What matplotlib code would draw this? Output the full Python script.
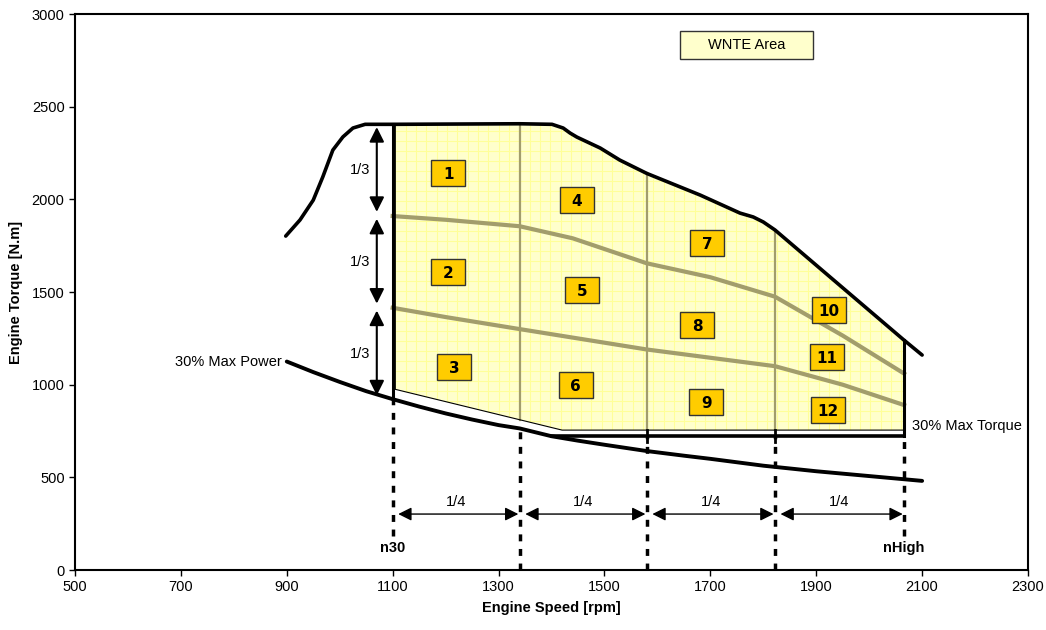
import numpy as np
import matplotlib.pyplot as plt
from matplotlib.patches import Polygon, Rectangle

plt.rcParams['font.family'] = ['Liberation Sans', 'DejaVu Sans']

# Кривая максимального момента
max_torque_x = [898, 925, 950, 968, 987, 1006, 1025, 1048, 1100, 1340, 1401, 1422, 1435,
                1448, 1492, 1529, 1580, 1681, 1756, 1781, 1800, 1822, 2066, 2100]
max_torque_y = [1802, 1889, 1996, 2121, 2266, 2337, 2385, 2405, 2405, 2408, 2405, 2385, 2358,
                2336, 2277, 2212, 2140, 2023, 1926, 1905, 1878, 1835, 1240, 1160]

# 30% максимальной мощности
power30_x = [900, 950, 1000, 1050, 1100, 1150, 1200, 1250, 1300, 1340, 1400, 1450,
             1500, 1580, 1650, 1700, 1800, 1900, 2000, 2100]
power30_y = [1125, 1068, 1015, 965, 922, 882, 845, 812, 782, 764, 722, 698,
             676, 642, 617, 600, 563, 533, 507, 481]

# 30% максимального момента
torque30_x = [1400, 2066]
torque30_y = [723, 723]

# Делители момента (1/3)
div_hi_x = [1100, 1200, 1340, 1440, 1580, 1700, 1822, 1950, 2066]
div_hi_y = [1910, 1890, 1855, 1790, 1655, 1580, 1475, 1265, 1060]
div_lo_x = [1100, 1200, 1340, 1580, 1822, 1950, 2066]
div_lo_y = [1415, 1365, 1300, 1190, 1100, 1000, 890]

# Нижняя граница зоны WNTE
wnte_bottom_x = [2066, 1420, 1105]
wnte_bottom_y = [755, 755, 975]

# Скорости: n30, деления 1/4, nHigh
speeds = [1100, 1340, 1580, 1822, 2066]

# Номера ячеек
cell_labels = ['1', '2', '3', '4', '5', '6', '7', '8', '9', '10', '11', '12']
cell_x = [1205, 1205, 1216, 1448, 1458, 1446, 1694, 1675, 1692, 1924, 1920, 1922]
cell_y = [2140, 1608, 1095, 1996, 1511, 998, 1764, 1322, 906, 1403, 1149, 863]

fig = plt.figure(figsize=(10.46, 6.30), dpi=100)
ax = fig.add_axes([0.0717, 0.0952, 0.9111, 0.8825])

# Зона WNTE
top_x = np.linspace(1105, speeds[-1], 300)
top_y = np.interp(top_x, max_torque_x, max_torque_y) - 8
poly_x = np.concatenate([top_x, wnte_bottom_x])
poly_y = np.concatenate([top_y, wnte_bottom_y])
area = Polygon(np.column_stack([poly_x, poly_y]), closed=True,
               facecolor='#ffffcc', edgecolor='none', zorder=1)
ax.add_patch(area)
# Сетка внутри зоны
for gx in np.arange(1105, 2070, 19.5):
    ln, = ax.plot([gx, gx], [700, 2450], color='#ffff99', lw=0.8, zorder=1.1)
    ln.set_clip_path(area)
for gy in np.arange(750, 2450, 54):
    ln, = ax.plot([1100, 2070], [gy, gy], color='#ffff99', lw=0.8, zorder=1.1)
    ln.set_clip_path(area)
ax.plot(list(wnte_bottom_x) + [1105], list(wnte_bottom_y) + [top_y[0]],
        color='black', lw=0.8, zorder=3)

# Делители
ax.plot(div_hi_x, div_hi_y, color='#a29d6c', lw=3, zorder=2)
ax.plot(div_lo_x, div_lo_y, color='#a29d6c', lw=3, zorder=2)
bottom_at = lambda x: np.interp(x, wnte_bottom_x[::-1], wnte_bottom_y[::-1])
for s in speeds[1:4]:
    ax.plot([s, s], [bottom_at(s), np.interp(s, max_torque_x, max_torque_y)],
            color='#a29d6c', lw=1.6, zorder=2)

# Основные кривые
ax.plot(max_torque_x, max_torque_y, color='black', lw=2.6, zorder=3, solid_capstyle='round')
ax.plot(power30_x, power30_y, color='black', lw=2.8, zorder=3, solid_capstyle='round')
ax.plot(torque30_x, torque30_y, color='black', lw=2.6, zorder=3)
ax.plot([speeds[0]] * 2, [np.interp(speeds[0], power30_x, power30_y),
                           np.interp(speeds[0], max_torque_x, max_torque_y)],
        color='black', lw=2.2, zorder=3)
ax.plot([speeds[-1]] * 2, [torque30_y[-1], np.interp(speeds[-1], max_torque_x, max_torque_y)],
        color='black', lw=2.2, zorder=3)
for s in speeds[2:4]:
    ax.plot([s, s], [690, 755], color='black', lw=2, zorder=3)

# Пунктирные вертикали
for i, s in enumerate(speeds):
    y_top = max(np.interp(s, power30_x, power30_y), torque30_y[0]) if s >= 1400 \
        else np.interp(s, power30_x, power30_y)
    y_bot = 185 if i in (0, len(speeds) - 1) else 0
    ax.plot([s, s], [y_bot, y_top], color='black', lw=2.5, ls=(0, (2, 2.2)), zorder=3)

# Стрелки 1/3
levels = [2405, 1910, 1415, 920]
for a, b in zip(levels[:-1], levels[1:]):
    ax.annotate('', xy=(1070, b), xytext=(1070, a),
                arrowprops=dict(arrowstyle='<|-|>', color='black', lw=1.5,
                                mutation_scale=22, shrinkA=2, shrinkB=3))
    ax.text(1038, (a + b) / 2, '1/3', ha='center', va='center', fontsize=10.5)

# Стрелки 1/4
for a, b in zip(speeds[:-1], speeds[1:]):
    ax.annotate('', xy=(b, 302), xytext=(a, 302),
                arrowprops=dict(arrowstyle='<|-|>', color='black', lw=1,
                                mutation_scale=20, shrinkA=4, shrinkB=1))
    ax.text((a + b) / 2, 367, '1/4', ha='center', va='center', fontsize=10.5)

# Номера ячеек
box_w, box_h = 64, 140
for lbl, x, y in zip(cell_labels, cell_x, cell_y):
    ax.add_patch(Rectangle((x - box_w / 2, y - box_h / 2), box_w, box_h,
                           facecolor='#ffcc00', edgecolor='#333333', lw=1, zorder=5))
    ax.text(x, y - 8, lbl, ha='center', va='center', fontsize=11, fontweight='bold',
            family='DejaVu Sans', zorder=6)

# Подписи
ax.add_patch(Rectangle((1768 - 125, 2833 - 78), 250, 156,
                       facecolor='#ffffcc', edgecolor='#333333', lw=1, zorder=5))
ax.text(1768, 2833, 'WNTE Area', ha='center', va='center', fontsize=10.5, zorder=6)
ax.text(890, 1122, '30% Max Power', ha='right', va='center', fontsize=10.5)
ax.text(2081, 777, '30% Max Torque', ha='left', va='center', fontsize=10.5)
ax.text(speeds[0], 119, 'n30', ha='center', va='center', fontsize=10.5, fontweight='bold')
ax.text(speeds[-1], 119, 'nHigh', ha='center', va='center', fontsize=10.5, fontweight='bold')

# Оси
ax.set_xlim(500, 2300)
ax.set_ylim(0, 3000)
ax.set_xticks(range(500, 2301, 200))
ax.set_yticks(range(0, 3001, 500))
ax.tick_params(labelsize=10.5, length=4, width=1)
ax.set_xlabel('Engine Speed [rpm]', fontsize=10.5, fontweight='bold', labelpad=5)
ax.set_ylabel('Engine Torque [N.m]', fontsize=10.5, fontweight='bold', labelpad=6)
for sp in ax.spines.values():
    sp.set_linewidth(1.5)

fig.savefig('out.png', dpi=100)
